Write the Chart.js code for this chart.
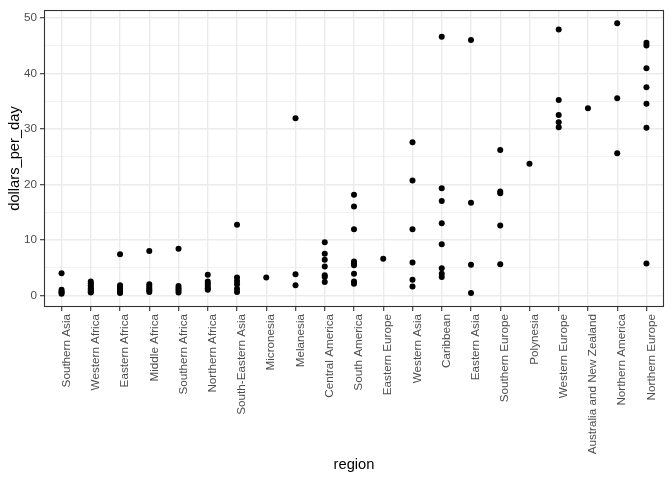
<!DOCTYPE html>
<html>
<head>
<meta charset="utf-8">
<script src="https://cdn.jsdelivr.net/npm/chart.js@4"></script>
<style>
html,body{margin:0;padding:0;background:#fff;}
#wrap{width:672px;height:480px;position:relative;}
</style>
</head>
<body>
<div id="wrap"><canvas id="c" width="672" height="480"></canvas></div>
<script>
const categories = ["Southern Asia","Western Africa","Eastern Africa","Middle Africa","Southern Africa","Northern Africa","South-Eastern Asia","Micronesia","Melanesia","Central America","South America","Eastern Europe","Western Asia","Caribbean","Eastern Asia","Southern Europe","Polynesia","Western Europe","Australia and New Zealand","Northern America","Northern Europe"];

const southernAsia = [4.0, 1.0, 0.7, 0.5, 0.3];
const westernAfrica = [2.5, 2.2, 1.8, 1.5, 1.2, 1.0, 0.8, 0.6, 0.5];
const easternAfrica = [7.4, 1.8, 1.5, 1.2, 0.9, 0.6, 0.4];
const middleAfrica = [8.0, 2.0, 1.6, 1.2, 0.9, 0.6];
const southernAfrica = [8.4, 1.7, 1.3, 0.9, 0.5];
const northernAfrica = [3.7, 2.5, 2.1, 1.7, 1.3, 1.0];
const southEasternAsia = [12.7, 3.2, 2.6, 2.0, 1.2, 0.6];
const micronesia = [3.2];
const melanesia = [31.9, 3.8, 1.8];
const centralAmerica = [9.55, 7.5, 6.4, 5.2, 3.6, 3.3, 2.4];
const southAmerica = [18.1, 16.0, 11.9, 6.1, 5.8, 5.4, 3.9, 2.5, 2.1];
const easternEurope = [6.6];
const westernAsia = [27.6, 20.7, 11.9, 5.9, 2.8, 1.6];
const caribbean = [46.6, 19.3, 17.0, 13.0, 9.2, 4.9, 3.9, 3.3];
const easternAsia = [46.0, 16.7, 5.5, 0.4];
const southernEurope = [26.2, 18.7, 18.4, 12.6, 5.6];
const polynesia = [23.7];
const westernEurope = [47.9, 35.2, 32.5, 31.2, 30.3];
const australiaNZ = [33.7];
const northernAmerica = [49.0, 35.5, 25.6];
const northernEurope = [45.5, 45.0, 40.9, 37.5, 34.5, 30.2, 5.75];

const yTicks = [0, 10, 20, 30, 40, 50];
const yMinorTicks = [5, 15, 25, 35, 45];

const valuesByRegion = [southernAsia, westernAfrica, easternAfrica, middleAfrica, southernAfrica, northernAfrica, southEasternAsia, micronesia, melanesia, centralAmerica, southAmerica, easternEurope, westernAsia, caribbean, easternAsia, southernEurope, polynesia, westernEurope, australiaNZ, northernAmerica, northernEurope];

const points = [];
valuesByRegion.forEach((vals, i) => vals.forEach(v => points.push({x: i, y: v})));

const FONT = "'Liberation Sans', Arial, Helvetica, sans-serif";

const panelBorder = {
  id: 'panelBorder',
  afterDraw(chart) {
    const {ctx, chartArea: a} = chart;
    ctx.save();
    ctx.strokeStyle = '#333333';
    ctx.lineWidth = 1.1;
    ctx.strokeRect(a.left + 0.5, a.top + 0.5, a.right - a.left - 1, a.bottom - a.top - 1);
    ctx.restore();
  }
};

new Chart(document.getElementById('c'), {
  type: 'scatter',
  data: {
    datasets: [{
      data: points,
      backgroundColor: '#000000',
      borderColor: '#000000',
      pointRadius: 3,
      pointHoverRadius: 3,
      borderWidth: 0
    }]
  },
  options: {
    responsive: false,
    animation: false,
    events: [],
    layout: {padding: {top: 8, right: 8, left: 0, bottom: 0}},
    plugins: {legend: {display: false}, tooltip: {enabled: false}},
    scales: {
      x: {
        type: 'linear',
        min: -0.6,
        max: categories.length - 1 + 0.6,
        afterBuildTicks: s => { s.ticks = categories.map((c, i) => ({value: i})); },
        afterFit: s => { s.height = 173; },
        grid: {color: '#EBEBEB', lineWidth: 1.4, drawTicks: true, tickLength: 4, tickColor: '#333333', tickWidth: 1.1},
        border: {display: false},
        ticks: {
          autoSkip: false,
          minRotation: 90,
          maxRotation: 90,
          padding: 3,
          labelOffset: 5,
          color: '#4D4D4D',
          font: {family: FONT, size: 11.7},
          callback: v => categories[v]
        },
        title: {display: true, text: 'region', color: '#000000', font: {family: FONT, size: 14.7}, padding: {top: 0, bottom: 6}}
      },
      y: {
        type: 'linear',
        min: -2.1,
        max: 51.4,
        afterBuildTicks: s => { s.ticks = yTicks.concat(yMinorTicks).sort((a,b)=>a-b).map(v => ({value: v})); },
        afterFit: s => { s.width = 44; },
        grid: {
          color: '#EBEBEB',
          lineWidth: c => (yTicks.includes(c.tick.value) ? 1.4 : 0.7),
          drawTicks: true,
          tickLength: 4,
          tickColor: c => (yTicks.includes(c.tick.value) ? '#333333' : 'rgba(0,0,0,0)'),
          tickWidth: 1.1
        },
        border: {display: false},
        ticks: {
          padding: 3,
          color: '#4D4D4D',
          font: {family: FONT, size: 11.7},
          callback: v => (yTicks.includes(v) ? String(v) : '')
        },
        title: {display: true, text: 'dollars_per_day', color: '#000000', font: {family: FONT, size: 14.7}, padding: {top: 6, bottom: 0}}
      }
    }
  },
  plugins: [panelBorder]
});
</script>
</body>
</html>
